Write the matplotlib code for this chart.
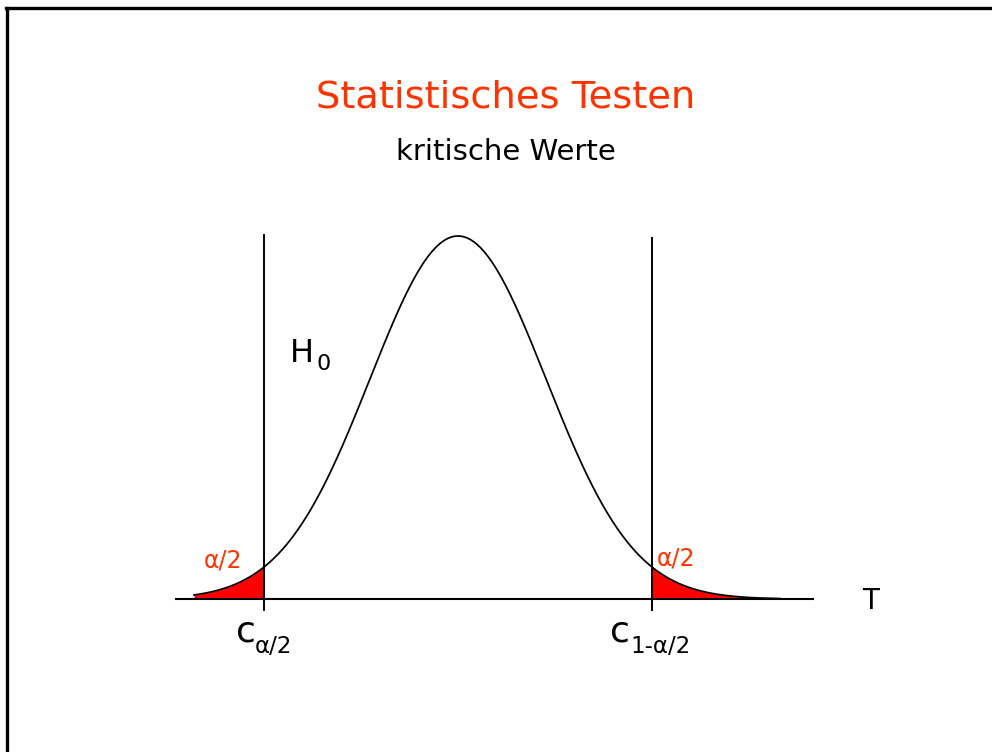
import numpy as np
import matplotlib
matplotlib.use("Agg")
import matplotlib.pyplot as plt
from matplotlib.lines import Line2D

# ==== Daten ====
title = "Statistisches Testen"
subtitle = "kritische Werte"
mean = 0.0
sd = 1.0
crit = [-2.2, 2.2]            # kritische Werte c_{a/2}, c_{1-a/2}
curve_range = [-3.0, 3.66]    # sichtbarer Bereich der Dichte
axis_range = [-3.2, 4.03]     # T-Achse
vline_top = [0.400, 0.397]    # Höhe der senkrechten Linien
vline_bottom = -0.012
alpha_label = "α/2"
crit_labels = [("c", "α/2"), ("c", "1-α/2")]

RED = "#ff3300"
FILL = "#ff0000"

W, H = 992, 752

def fx(x):
    return x / W

def fy(y):
    return (H - y) / H

def pdf(x):
    return np.exp(-0.5 * ((x - mean) / sd) ** 2) / (sd * np.sqrt(2 * np.pi))

fig = plt.figure(figsize=(W / 100, H / 100), dpi=100)
ax = fig.add_axes([0, 0, 1, 1])
ax.set_axis_off()

# pixel <-> Daten: Mittelwert bei x=458, 88 px pro sd; Basis bei y=599, Gipfel bei 236
peak = pdf(mean)
ax.set_xlim((0 - 458) / 88, (W - 458) / 88)
ax.set_ylim(-(H - 599) / 363 * peak, 599 / 363 * peak)

x = np.linspace(curve_range[0], curve_range[1], 600)
y = pdf(x)

# rote Flächen
for lo, hi in [(curve_range[0], crit[0]), (crit[1], curve_range[1])]:
    xs = np.linspace(lo, hi, 200)
    ax.fill_between(xs, 0, pdf(xs), color=FILL, lw=0, zorder=1)

ax.plot(x, y, color="black", lw=1.25, zorder=3)
ax.plot(axis_range, [0, 0], color="black", lw=1.5, zorder=2)
for c, top in zip(crit, vline_top):
    ax.plot([c, c], [vline_bottom, top], color="black", lw=1.4, zorder=2)

# Texte
fig.text(fx(506), fy(107), title, color=RED, fontsize=27.6, ha="center", va="baseline")
fig.text(fx(506), fy(160), subtitle, color="black", fontsize=21, ha="center", va="baseline")

fig.text(fx(290), fy(362), "H", fontsize=23, va="baseline")
fig.text(fx(316), fy(370), "0", fontsize=16, va="baseline")

fig.text(fx(204), fy(567), alpha_label, color=RED, fontsize=17, va="baseline")
fig.text(fx(657), fy(566), alpha_label, color=RED, fontsize=17, va="baseline")

(c1, s1), (c2, s2) = crit_labels
fig.text(fx(236), fy(642), c1, fontsize=26, va="baseline")
fig.text(fx(255), fy(653), s1, fontsize=16.5, va="baseline")
fig.text(fx(610), fy(641), c2, fontsize=26, va="baseline")
fig.text(fx(630), fy(653), s2, fontsize=16.5, va="baseline")

fig.text(fx(862), fy(609), "T", fontsize=20, va="baseline")

# Folienrahmen (links und oben)
fig.add_artist(Line2D([fx(7), fx(7)], [fy(7.5), 0], transform=fig.transFigure, color="black", lw=2.4))
fig.add_artist(Line2D([fx(6), 1], [fy(7.5), fy(7.5)], transform=fig.transFigure, color="black", lw=2.4))

fig.savefig("out.png", dpi=100)
